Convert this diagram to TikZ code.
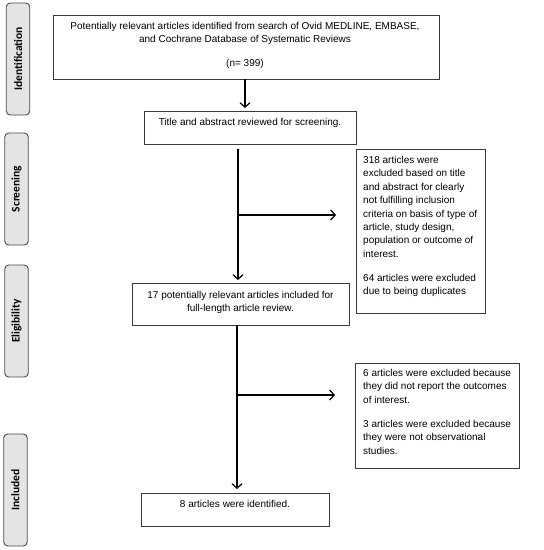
\documentclass[tikz,border=0pt]{standalone}
\usepackage{fontspec}
\setmainfont{Liberation Sans}
\newfontfamily\sidefont{Carlito}
\usetikzlibrary{arrows.meta}
\definecolor{boxc}{HTML}{3A3A3A}
\definecolor{sidefill}{HTML}{E4E4E4}
\definecolor{sidedraw}{HTML}{4A4A4A}
\tikzset{
  box/.style={draw=boxc, line width=0.8pt, inner sep=0pt},
  txt/.style={inner sep=0pt, font=\fontsize{10}{13.4}\selectfont},
  side/.style={draw=sidedraw, fill=sidefill, line width=0.9pt, rounded corners=4pt,
    rotate=90, minimum width=112pt, minimum height=23.5pt, inner sep=0pt,
    font=\sidefont\bfseries\fontsize{11.5}{13}\selectfont},
  arr/.style={line width=1.2pt, -{Straight Barb[length=4.5pt,width=10pt,line width=1.2pt]}},
  ln/.style={line width=1.2pt}
}
\begin{document}
\begin{tikzpicture}[x=1pt,y=-1pt]
\useasboundingbox (0,0) rectangle (544,550);
% side labels
\node[side] (sid) at (18,59) {Identification};
\node[side] (sscr) at (16.5,189) {Screening};
\node[side] (selg) at (16.5,321) {Eligibility};
\node[side] (sinc) at (15.5,490) {Included};
% boxes
\node[box, minimum width=386pt, minimum height=64pt] (b1) at (246,47) {};
\node[box, minimum width=212pt, minimum height=33pt] (b2) at (250,127.5) {};
\node[box, minimum width=129pt, minimum height=164pt] (b3) at (420.5,231) {};
\node[box, minimum width=217pt, minimum height=42pt] (b4) at (240.5,304) {};
\node[box, minimum width=164pt, minimum height=105pt] (b5) at (437,415.5) {};
\node[box, minimum width=188pt, minimum height=33pt] (b6) at (235,509.5) {};
% texts
\node[txt, anchor=north, align=center] (t1) at (245,22) {Potentially relevant articles identified from search of Ovid MEDLINE, EMBASE,\\ and Cochrane Database of Systematic Reviews\\[10.6pt] (n= 399)};
\node[txt, anchor=north] (t2) at (250,118) {Title and abstract reviewed for screening.};
\node[txt, anchor=north west, align=left] (t3) at (363,156) {318 articles were\\ excluded based on title\\ and abstract for clearly\\ not fulfilling inclusion\\ criteria on basis of type of\\ article, study design,\\ population or outcome of\\ interest.\\[10.6pt] 64 articles were excluded\\ due to being duplicates};
\node[txt, anchor=north, align=center] (t4) at (240.5,291) {17 potentially relevant articles included for\\ full-length article review.};
\node[txt, anchor=north west, align=left] (t5) at (363,369) {6 articles were excluded because\\ they did not report the outcomes\\ of interest.\\[10.6pt] 3 articles were excluded because\\ they were not observational\\ studies.};
\node[txt, anchor=north] (t6) at (235,500) {8 articles were identified.};
% connectors
\coordinate (s0) at (245,79);
\draw[arr] (s0) -- (s0 |- 0,108);
\coordinate (s1) at (238,149);
\coordinate (j1) at (238,215);
\coordinate (e1) at (336,215);
\coordinate (s1e) at (238,280);
\draw[arr] (s1) -- (s1e);
\draw[arr] (j1) -- (e1);
\coordinate (s2) at (237,325);
\coordinate (j2) at (237,395);
\coordinate (e2) at (335,395);
\coordinate (s2e) at (237,489);
\draw[arr] (s2) -- (s2e);
\draw[arr] (j2) -- (e2);
\end{tikzpicture}
\end{document}
